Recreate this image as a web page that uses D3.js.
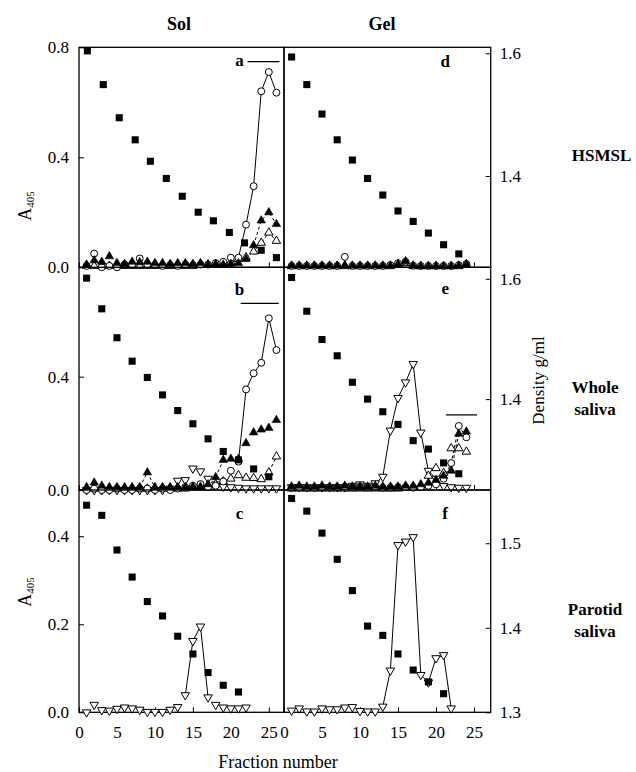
<!DOCTYPE html>
<html><head><meta charset="utf-8">
<script src="https://cdn.jsdelivr.net/npm/d3@7"></script>
<style>body{margin:0;background:#fff}svg{display:block}</style>
</head><body><svg id="c" width="636" height="772"></svg>
<script>
// ---------- DATA ----------
const frac26 = [1,2,3,4,5,6,7,8,9,10,11,12,13,14,15,16,17,18,19,20,21,22,23,24,25,26];
const frac24 = [1,2,3,4,5,6,7,8,9,10,11,12,13,14,15,16,17,18,19,20,21,22,23,24];
const frac22 = [1,2,3,4,5,6,7,8,9,10,11,12,13,14,15,16,17,18,19,20,21,22];

// density (filled squares)
const aSqFrac = [1.1,3.2,5.3,7.4,9.4,11.5,13.6,15.7,17.7,19.8,21.8,24.0,26.0];
const aSqDen  = [1.604,1.549,1.495,1.459,1.424,1.396,1.367,1.341,1.327,1.308,1.291,1.279,1.267];
const dSqFrac = [1,3,5,7,9,11,13,15,17,19,21,23];
const dSqDen  = [1.594,1.549,1.501,1.459,1.426,1.396,1.369,1.343,1.326,1.307,1.288,1.273];
const bSqFrac = [1,3,5,7,9,11,13,15,17,19,21,23,25];
const bSqDen  = [1.601,1.550,1.502,1.463,1.436,1.407,1.381,1.359,1.334,1.313,1.299,1.284,1.271];
const eSqFrac = [1,3,5,7,9,11,13,15,17,19,21,23];
const eSqDen  = [1.602,1.546,1.499,1.472,1.428,1.400,1.379,1.358,1.331,1.317,1.294,1.276];
const cSqFrac = [1,3,5,7,9,11,13,15,17,19,21];
const cSqDen  = [1.545,1.533,1.492,1.460,1.431,1.414,1.390,1.369,1.347,1.332,1.324];
const fSqFrac = [1,3,5,7,9,11,13,15,17,19,21];
const fSqDen  = [1.553,1.538,1.512,1.481,1.444,1.402,1.391,1.369,1.350,1.336,1.322];

// A405 series
const aCircle    = [0.005,0.05,0.0,0.005,0.0,0.01,0.01,0.032,0.01,0.008,0.005,0.008,0.005,0.01,0.008,0.01,0.01,0.015,0.02,0.035,0.035,0.155,0.295,0.64,0.71,0.635];
const aTriFilled = [0.01,0.025,0.02,0.04,0.015,0.012,0.02,0.018,0.02,0.015,0.015,0.012,0.015,0.015,0.012,0.015,0.01,0.012,0.01,0.012,0.015,0.03,0.08,0.17,0.2,0.157];
const aTriOpen   = [0.005,0.005,0.005,0.005,0.005,0.005,0.005,0.005,0.005,0.005,0.005,0.005,0.005,0.005,0.005,0.01,0.01,0.01,0.015,0.02,0.03,0.036,0.057,0.089,0.126,0.096];

const dCircle    = [0.005,0.005,0.005,0.005,0.005,0.005,0.005,0.038,0.005,0.005,0.005,0.005,0.005,0.008,0.015,0.02,0.006,0.005,0.005,0.005,0.005,0.005,0.008,0.012];
const dTriFilled = [0.006,0.006,0.006,0.006,0.006,0.006,0.006,0.008,0.006,0.006,0.006,0.006,0.006,0.006,0.012,0.022,0.006,0.004,0.004,0.004,0.004,0.004,0.006,0.012];
const dTriOpen   = [0.004,0.004,0.004,0.004,0.004,0.004,0.004,0.004,0.004,0.004,0.004,0.004,0.004,0.004,0.01,0.015,0.004,0.004,0.004,0.004,0.004,0.004,0.004,0.008];

const bCircle    = [0.0,0.005,0.0,0.0,0.005,0.0,0.0,0.005,0.005,0.0,0.005,0.0,0.005,0.01,0.015,0.021,0.01,0.015,0.03,0.068,0.1,0.355,0.412,0.449,0.606,0.494];
const bTriFilled = [0.01,0.026,0.015,0.01,0.01,0.01,0.01,0.01,0.062,0.01,0.01,0.01,0.01,0.01,0.012,0.012,0.02,0.045,0.106,0.11,0.11,0.165,0.203,0.213,0.219,0.247];
const bTriOpen   = [0.005,0.005,0.005,0.005,0.005,0.005,0.005,0.005,0.005,0.005,0.005,0.005,0.005,0.005,0.01,0.01,0.015,0.02,0.03,0.04,0.052,0.043,0.042,0.038,0.062,0.118];
const bTriDown   = [0.0,0.0,0.0,0.0,0.0,0.0,0.0,0.0,0.0,0.0,0.0,0.005,0.033,0.035,0.076,0.066,0.04,0.02,0.012,0.01,0.008,0.006,0.006,0.006,0.006,0.006];

const eCircle    = [0.008,0.008,0.008,0.008,0.01,0.01,0.01,0.012,0.01,0.012,0.01,0.012,0.008,0.008,0.01,0.01,0.008,0.01,0.015,0.02,0.04,0.095,0.226,0.186];
const eTriFilled = [0.012,0.015,0.012,0.012,0.015,0.012,0.012,0.015,0.012,0.012,0.012,0.015,0.012,0.012,0.012,0.015,0.015,0.02,0.025,0.035,0.05,0.068,0.198,0.206];
const eTriOpen   = [0.005,0.005,0.005,0.005,0.005,0.005,0.005,0.005,0.005,0.005,0.005,0.005,0.005,0.005,0.005,0.008,0.01,0.015,0.05,0.077,0.06,0.147,0.147,0.135];
const eTriDown   = [0.01,0.01,0.01,0.01,0.01,0.01,0.01,0.01,0.015,0.02,0.015,0.024,0.047,0.21,0.325,0.38,0.445,0.203,0.068,0.04,0.014,0.01,0.008,0.008];

const cTriDown = [0.0,0.017,0.005,0.004,0.008,0.011,0.009,0.006,0.001,0.001,0.001,0.006,0.012,0.039,0.162,0.195,0.034,0.017,0.011,0.009,0.009,0.011];
const fTriDown = [0.004,0.009,0.002,0.002,0.009,0.007,0.007,0.011,0.012,0.003,0.002,0.002,0.013,0.095,0.38,0.388,0.398,0.085,0.068,0.123,0.13,0.009];

// axes
const leftTicks  = [[0,0.4,0.8],[0,0.4],[0,0.2,0.4]];
const rightTicks = [[1.4,1.6],[1.4,1.6],[1.3,1.4,1.5]];
const xTickVals  = [0,5,10,15,20,25];
const colTitles = ['Sol','Gel'];
const rowTitles = [['HSMSL'],['Whole','saliva'],['Parotid','saliva']];

// ---------- LAYOUT ----------
const FONT = "'Liberation Serif'";
const svg = d3.select('#c').style('font-family',FONT);
const colX = [d3.scaleLinear().domain([0,27]).range([79,284]),
              d3.scaleLinear().domain([0,27.2]).range([284,490.7])];
const rowBox = [[47.3,267.3],[267.3,490],[490,712.3]];
const rowADom = [[0,0.8],[0,0.786],[0,0.505]];
const rowDDom = [[1.2512,1.6098],[1.249,1.619],[1.3,1.563]];

const panels = [
 {col:0,row:0,letter:'a',ly:19,sqF:aSqFrac,sqD:aSqDen,bar:[22.2,26.4,0.748],series:[
   {f:frac26,v:aTriOpen,t:'triO',dash:true,ranges:[[22,26]]},
   {f:frac26,v:aCircle,t:'circle',dash:false,ranges:[[21,26]]},
   {f:frac26,v:aTriFilled,t:'triF',dash:true,ranges:[[23,26]]}]},
 {col:1,row:0,letter:'d',ly:19.5,sqF:dSqFrac,sqD:dSqDen,series:[
   {f:frac24,v:dTriOpen,t:'triO',ranges:[]},
   {f:frac24,v:dCircle,t:'circle',ranges:[]},
   {f:frac24,v:dTriFilled,t:'triF',ranges:[]}]},
 {col:0,row:1,letter:'b',ly:27.7,sqF:bSqFrac,sqD:bSqDen,bar:[21.3,26.3,0.659],series:[
   {f:frac26,v:bTriDown,t:'triD',ranges:[]},
   {f:frac26,v:bTriOpen,t:'triO',dash:true,ranges:[[24,26]]},
   {f:frac26,v:bCircle,t:'circle',dash:false,ranges:[[21,26]]},
   {f:frac26,v:bTriFilled,t:'triF',dash:true,ranges:[[8,10],[18,19]]}]},
 {col:1,row:1,letter:'e',ly:27,sqF:eSqFrac,sqD:eSqDen,bar:[21.3,25.4,0.265],series:[
   {f:frac24,v:eTriDown,t:'triD',dash:false,ranges:[[12,21]]},
   {f:frac24,v:eTriOpen,t:'triO',ranges:[]},
   {f:frac24,v:eCircle,t:'circle',dash:true,ranges:[[21,24]]},
   {f:frac24,v:eTriFilled,t:'triF',dash:true,ranges:[[21,23]]}]},
 {col:0,row:2,letter:'c',ly:29,sqF:cSqFrac,sqD:cSqDen,series:[
   {f:frac22,v:cTriDown,t:'triD',dash:false,ranges:[[14,17]]}]},
 {col:1,row:2,letter:'f',ly:29,sqF:fSqFrac,sqD:fSqDen,series:[
   {f:frac22,v:fTriDown,t:'triD',dash:false,ranges:[[13,22]]}]}
];

function symbolPath(t){
  if (t==='circle') return d3.symbol().type(d3.symbolCircle).size(38)();
  if (t==='sq') return d3.symbol().type(d3.symbolSquare).size(50)();
  return d3.symbol().type(d3.symbolTriangle).size(31)();
}

function styleAxis(ax){
  ax.select('.domain').remove();
  ax.attr('font-family',null).attr('font-size',null);
  ax.selectAll('line').attr('stroke','#000').attr('stroke-width',1);
  ax.selectAll('text').style('font-family',FONT).style('font-size','17px').attr('fill','#000');
}

panels.forEach(p=>{
  const x = colX[p.col];
  const [y0,y1] = rowBox[p.row];
  const yA = d3.scaleLinear().domain(rowADom[p.row]).range([y1,y0]);
  const yD = d3.scaleLinear().domain(rowDDom[p.row]).range([y1,y0]);
  const g = svg.append('g');
  const [x0,x1] = x.range();

  const bx = g.append('g').attr('transform',`translate(0,${y1})`)
    .call(d3.axisBottom(x).tickValues(xTickVals).tickSize(-5).tickPadding(13.5)
      .tickFormat(p.row===2 ? d3.format('d') : ()=>''));
  styleAxis(bx);

  if (p.col===0){
    const ax = g.append('g').attr('transform',`translate(${x0},0)`)
      .call(d3.axisLeft(yA).tickValues(leftTicks[p.row]).tickSize(-5).tickPadding(10).tickFormat(d3.format('.1f')));
    styleAxis(ax);
  } else {
    const ax = g.append('g').attr('transform',`translate(${x1},0)`)
      .call(d3.axisRight(yD).tickValues(rightTicks[p.row]).tickSize(-5).tickPadding(9).tickFormat(d3.format('.1f')));
    styleAxis(ax);
  }

  g.append('rect').attr('x',x0).attr('y',y0).attr('width',x1-x0).attr('height',y1-y0)
    .attr('fill','none').attr('stroke','#000').attr('stroke-width',1.3);

  p.series.forEach(s=>{
    s.ranges.forEach(r=>{
      const pts = s.f.map((f,i)=>[f,s.v[i]]).filter(d=>d[0]>=r[0]&&d[0]<=r[1]);
      g.append('path').attr('d',d3.line().x(d=>x(d[0])).y(d=>yA(d[1]))(pts))
        .attr('fill','none').attr('stroke','#000').attr('stroke-width',1)
        .attr('stroke-dasharray', s.dash ? '3,2.5' : null);
    });
  });

  p.series.forEach(s=>{
    const filled = s.t==='triF';
    g.append('g').selectAll('path').data(s.f.map((f,i)=>[f,s.v[i]])).join('path')
      .attr('d',symbolPath(s.t))
      .attr('transform',d=>`translate(${x(d[0])},${yA(d[1])})${s.t==='triD'?' rotate(180)':''}`)
      .attr('fill',filled?'#000':'#fff').attr('stroke','#000').attr('stroke-width',filled?0.6:1);
  });

  g.append('g').selectAll('path').data(p.sqF.map((f,i)=>[f,p.sqD[i]])).join('path')
    .attr('d',symbolPath('sq'))
    .attr('transform',d=>`translate(${x(d[0])},${yD(d[1])})`)
    .attr('fill','#000');

  g.append('text').attr('x',x1-(p.col===0?44.5:45.5)).attr('y',y0+p.ly)
    .attr('text-anchor','middle').style('font-family',FONT).style('font-weight','bold')
    .style('font-size','17px').text(p.letter);
  if (p.bar){
    g.append('line').attr('x1',x(p.bar[0])).attr('x2',x(p.bar[1]))
      .attr('y1',yA(p.bar[2])).attr('y2',yA(p.bar[2])).attr('stroke','#000').attr('stroke-width',1.3);
  }
});

const tt = (x,y,txt,size,bold)=>svg.append('text').attr('x',x).attr('y',y).attr('text-anchor','middle')
  .style('font-family',FONT).style('font-size',size+'px').style('font-weight',bold?'bold':'normal').text(txt);
tt(179,30,colTitles[0],18,true);
tt(382,30,colTitles[1],18,true);
tt(601.5,161,rowTitles[0][0],17,true);
tt(595,393,rowTitles[1][0],17,true);
tt(595,415,rowTitles[1][1],17,true);
tt(595,615,rowTitles[2][0],17,true);
tt(595,637,rowTitles[2][1],17,true);
tt(278,768,'Fraction number',18,false);

svg.append('text').attr('transform','translate(544,380.5) rotate(-90)').attr('text-anchor','middle')
  .style('font-family',FONT).style('font-size','17px').text('Density g/ml');

[206,592].forEach(cy=>{
  const t = svg.append('text').attr('transform',`translate(31,${cy}) rotate(-90)`).attr('text-anchor','middle')
    .style('font-family',FONT).style('font-size','18px');
  t.append('tspan').text('A');
  t.append('tspan').style('font-size','11px').attr('dy',3).text('405');
});
</script></body></html>
